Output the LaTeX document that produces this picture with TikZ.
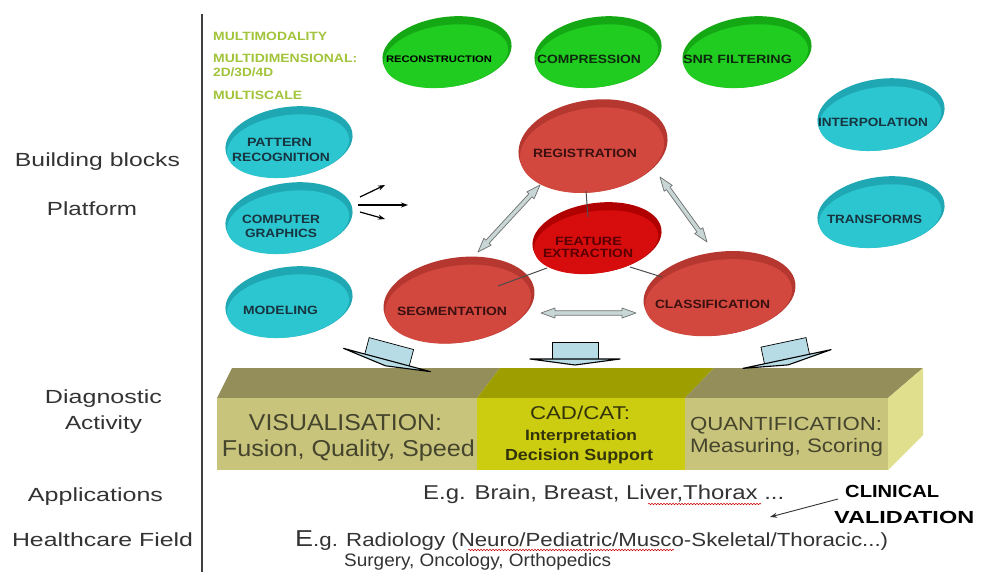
\documentclass[tikz,border=0pt]{standalone}
\usepackage{graphicx}
\usepackage{fontspec}
\setmainfont{Liberation Sans}
\usetikzlibrary{calc,arrows.meta,decorations.pathmorphing}
\newcommand\fw[2]{\resizebox{#1pt}{\height}{#2}}
\definecolor{labelgray}{HTML}{333333}
\definecolor{limegr}{HTML}{A2C43A}
\definecolor{grrim}{HTML}{14A814}
\definecolor{grface}{HTML}{20CC20}
\definecolor{cyrim}{HTML}{1FA8B4}
\definecolor{cyface}{HTML}{2CC6D0}
\definecolor{rdrim}{HTML}{B5372F}
\definecolor{rdface}{HTML}{D2483E}
\definecolor{ferim}{HTML}{B00000}
\definecolor{feface}{HTML}{D70D0D}
\definecolor{cytext}{HTML}{173540}
\definecolor{grtext}{HTML}{0D2A0D}
\definecolor{rdtext}{HTML}{3A1010}
\definecolor{fetext}{HTML}{5A0000}
\definecolor{dblfill}{HTML}{C9D6D6}
\definecolor{dbldraw}{HTML}{6E7070}
\definecolor{arrblue}{HTML}{B7DCE6}
\definecolor{topolive}{HTML}{948F5A}
\definecolor{topyel}{HTML}{9E9E00}
\definecolor{frontolive}{HTML}{C9C47C}
\definecolor{frontyel}{HTML}{CCCC10}
\definecolor{sidelight}{HTML}{E0DF8E}
\definecolor{bartext}{HTML}{45452D}
\definecolor{cadtext}{HTML}{33330A}
% ellipse blob: center; x radius; y radius; rim colour; face colour
\newcommand\blob[5]{%
  \fill[#4, rotate around={8:(#1)}] (#1) ellipse ({#2pt} and {#3pt});
  \fill[#5, rotate around={8:(#1)}] ($(#1)+(-1.5,4)$) ellipse ({#2pt-2.5pt} and {#3pt-4pt});}
% hollow double arrow between two named coordinates
\newcommand\dblarrow[2]{%
  \filldraw[fill=dblfill, draw=dbldraw, line width=0.7pt, line join=round]
    (#1)
    -- ($($(#1)!14pt!(#2)$)!5pt!90:(#2)$)
    -- ($($(#1)!14pt!(#2)$)!2.2pt!90:(#2)$)
    -- ($($(#2)!14pt!(#1)$)!2.2pt!-90:(#1)$)
    -- ($($(#2)!14pt!(#1)$)!5pt!-90:(#1)$)
    -- (#2)
    -- ($($(#2)!14pt!(#1)$)!5pt!90:(#1)$)
    -- ($($(#2)!14pt!(#1)$)!2.2pt!90:(#1)$)
    -- ($($(#1)!14pt!(#2)$)!2.2pt!-90:(#2)$)
    -- ($($(#1)!14pt!(#2)$)!5pt!-90:(#2)$)
    -- cycle;}
\newcommand\blockarrow{%
  \filldraw[fill=arrblue, draw=black, line width=0.7pt] (-23,0.5) -- (-23,-17) -- (23,-17) -- (23,0.5);
  \filldraw[fill=arrblue, draw=black, line width=1.1pt, line join=round] (-45,0) -- (45,0) -- (0,6) -- cycle;}
\begin{document}
\begin{tikzpicture}[x=1pt,y=-1pt,
  fsz/.style={font=\fontsize{#1}{#1}\selectfont},
  bfsz/.style={font=\fontsize{#1}{#1}\selectfont\bfseries},
  lbl/.style={inner sep=0pt, anchor=base, text=labelgray},
  gtxt/.style={inner sep=0pt, anchor=base west, text=limegr, bfsz=12},
  etxt/.style={inner sep=0pt, anchor=base, bfsz=12},
  btxt/.style={inner sep=0pt, anchor=base, text=bartext},
  smallarr/.style={line width=1.2pt, -{Stealth[length=7pt,width=5pt]}},
  squig/.style={red!80!black, line width=0.5pt, decorate, decoration={snake, amplitude=0.8pt, segment length=3pt}}
]
\useasboundingbox (0,0) rectangle (985,572);
\fill[white] (0,0) rectangle (985,572);

% left column labels and separator
\draw[line width=1.2pt, black!75] (202,14) -- (202,572);
\node[lbl,fsz=19] (lbb) at (97.5,167) {\fw{165}{Building blocks}};
\node[lbl,fsz=19] (lpf) at (92,215) {\fw{90}{Platform}};
\node[lbl,fsz=19] (ldg) at (103.5,403) {\fw{117}{Diagnostic}};
\node[lbl,fsz=19] (lac) at (103.5,429) {\fw{77}{Activity}};
\node[lbl,fsz=19] (lap) at (95.5,501) {\fw{135}{Applications}};
\node[lbl,fsz=19] (lhf) at (102.5,546) {\fw{181}{Healthcare Field}};

% top-left green notes
\node[gtxt] (m1) at (213,41) {\fw{114}{MULTIMODALITY}};
\node[gtxt] (m2) at (213,62.5) {\fw{144}{MULTIDIMENSIONAL:}};
\node[gtxt] (m3) at (213,77) {\fw{60}{2D/3D/4D}};
\node[gtxt] (m4) at (213,100) {\fw{89}{MULTISCALE}};

% green blobs
\blob{447,52}{65}{35}{grrim}{grface}
\blob{598,52}{64}{35}{grrim}{grface}
\blob{747,52}{65}{35}{grrim}{grface}
\node[etxt, bfsz=9.5, text=black] (recon) at (439,63) {\fw{106}{RECONSTRUCTION}};
\node[etxt, text=grtext] (comp) at (589,63.5) {\fw{104}{COMPRESSION}};
\node[etxt, text=grtext] (snr) at (737.5,64) {\fw{109}{SNR FILTERING}};

% cyan blobs
\blob{289,142}{64}{35}{cyrim}{cyface}
\blob{289,218}{64}{35}{cyrim}{cyface}
\blob{289,302}{64}{35}{cyrim}{cyface}
\blob{881,114.5}{64}{35.5}{cyrim}{cyface}
\blob{881,212}{64}{35}{cyrim}{cyface}
\node[etxt, text=cytext] (pat1) at (279.5,147) {\fw{65}{PATTERN}};
\node[etxt, text=cytext] (pat2) at (281,162) {\fw{98}{RECOGNITION}};
\node[etxt, text=cytext] (cg1) at (281,223) {\fw{78}{COMPUTER}};
\node[etxt, text=cytext] (cg2) at (281,237) {\fw{72}{GRAPHICS}};
\node[etxt, text=cytext] (mod) at (280.5,314) {\fw{75}{MODELING}};
\node[etxt, text=cytext] (interp) at (873,127) {\fw{110}{INTERPOLATION}};
\node[etxt, text=cytext] (transf) at (874.5,224) {\fw{95}{TRANSFORMS}};

% small arrows from computer graphics
\coordinate (cgA1) at (360,197); \coordinate (cgB1) at (385,185);
\coordinate (cgA2) at (358,205); \coordinate (cgB2) at (408,205);
\coordinate (cgA3) at (360,212); \coordinate (cgB3) at (385,219);
\draw[smallarr] (cgA1) -- (cgB1);
\draw[smallarr] (cgA2) -- (cgB2);
\draw[smallarr] (cgA3) -- (cgB3);

% red blobs
\blob{593,146}{75}{46}{rdrim}{rdface}
\blob{459,300}{76}{42.5}{rdrim}{rdface}
\blob{719.5,293.5}{76.5}{41.5}{rdrim}{rdface}
\blob{597,238}{65}{35}{ferim}{feface}
\node[etxt, text=rdtext] (reg) at (585,158) {\fw{104}{REGISTRATION}};
\node[etxt, text=rdtext] (seg) at (452,315) {\fw{110}{SEGMENTATION}};
\node[etxt, text=rdtext] (cls) at (712.5,308) {\fw{115}{CLASSIFICATION}};
\node[etxt, text=fetext] (fe1) at (588.5,245) {\fw{67}{FEATURE}};
\node[etxt, text=fetext] (fe2) at (588,258) {\fw{90}{EXTRACTION}};

% thin links to feature extraction
\coordinate (regB) at (586,191); \coordinate (feT) at (588,217);
\coordinate (feL) at (547,268); \coordinate (segI) at (498,286);
\coordinate (feR) at (630,267); \coordinate (clsI) at (662,277);
\draw[line width=1pt, black!70] (regB) -- (feT);
\draw[line width=1pt, black!70] (feL) -- (segI);
\draw[line width=1pt, black!70] (feR) -- (clsI);

% hollow double arrows
\coordinate (dLa) at (478,252); \coordinate (dLb) at (540,185);
\coordinate (dRa) at (660,177); \coordinate (dRb) at (707,242);
\coordinate (dHa) at (541,313); \coordinate (dHb) at (636,313);
\dblarrow{dLa}{dLb}
\dblarrow{dRa}{dRb}
\dblarrow{dHa}{dHb}

% 3D bar
\fill[topolive] (217,398) -- (477,398) -- (500,368) -- (232,368) -- cycle;
\fill[topyel] (477,398) -- (685,398) -- (714,368) -- (500,368) -- cycle;
\fill[topolive] (685,398) -- (888,398) -- (923,368) -- (714,368) -- cycle;
\fill[frontolive] (217,398) rectangle (477,470);
\fill[frontyel] (477,398) rectangle (685,470);
\fill[frontolive] (685,398) rectangle (888,470);
\fill[sidelight] (888,398) -- (923,368) -- (923,435) -- (888,470) -- cycle;

% block arrows into the bar
\begin{scope}[shift={(387,360)}, rotate=-15] \blockarrow \end{scope}
\begin{scope}[shift={(575,359)}] \blockarrow \end{scope}
\begin{scope}[shift={(787,359)}, rotate=12] \blockarrow \end{scope}

% bar texts
\node[btxt, fsz=23] (vis1) at (345.5,430) {\fw{193}{VISUALISATION:}};
\node[btxt, fsz=23] (vis2) at (348.5,456) {\fw{253}{Fusion, Quality, Speed}};
\node[btxt, fsz=18.5, text=cadtext] (cad1) at (580,419) {\fw{100}{CAD/CAT:}};
\node[btxt, bfsz=15, text=cadtext] (cad2) at (581,440.5) {\fw{112}{Interpretation}};
\node[btxt, bfsz=16, text=cadtext] (cad3) at (579,460.5) {\fw{148}{Decision Support}};
\node[btxt, fsz=19] (q1) at (786,430) {\fw{192}{QUANTIFICATION:}};
\node[btxt, fsz=19.5] (q2) at (786.5,452) {\fw{193}{Measuring, Scoring}};

% applications / healthcare texts
\node[lbl, fsz=20, anchor=base west] (app) at (423,499) {\fw{361}{E.g. Brain, Breast, Liver,Thorax ...}};
\draw[squig] (648,504) -- (761,504);
\node[inner sep=0pt, anchor=base west, bfsz=17.5, text=black] (clin1) at (845,497) {\fw{94}{CLINICAL}};
\node[inner sep=0pt, anchor=base west, bfsz=17.5, text=black] (clin2) at (834,523) {\fw{140}{VALIDATION}};
\coordinate (clA) at (838,499); \coordinate (clB) at (770,517);
\draw[line width=0.9pt, black!80, -{Stealth[length=7pt,width=5pt]}] (clA) -- (clB);
\node[lbl, fsz=19, anchor=base west] (rad) at (295,546) {\fw{593}{{\fontsize{23}{23}\selectfont E}.g. Radiology (Neuro/Pediatric/Musco-Skeletal/Thoracic...)}};
\draw[squig] (468,550) -- (674,550);
\node[lbl, fsz=18, anchor=base west] (surg) at (344,566) {\fw{267}{Surgery, Oncology, Orthopedics}};
\end{tikzpicture}
\end{document}
